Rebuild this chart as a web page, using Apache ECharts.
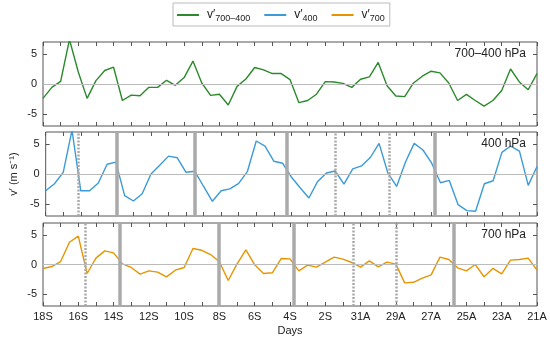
<!DOCTYPE html>
<html>
<head>
<meta charset="utf-8">
<script src="https://cdn.jsdelivr.net/npm/echarts@6/dist/echarts.min.js"></script>
<style>html,body{margin:0;padding:0;background:#fff}#c{width:550px;height:338px}</style>
</head>
<body>
<div id="c"></div>
<script>
// Tick labels (every 2 days, x in days from 18S)
const tickLabels = ['18S','16S','14S','12S','10S','8S','6S','4S','2S','31A','29A','27A','25A','23A','21A'];
// Twice-daily values (57 points, step 0.5 day)
const v700_400 = [-2.4,-0.56,0.45,7.4,2.0,-2.4,0.56,2.25,2.8,-2.75,-1.85,-1.97,-0.56,-0.56,0.62,-0.22,1.07,3.82,0.17,-1.9,-1.7,-3.5,-0.4,0.84,2.75,2.36,1.74,1.74,0.73,-3.1,-2.75,-1.7,0.39,0.34,0.11,-0.56,0.79,1.18,3.6,-0.28,-2.0,-2.1,0.17,1.3,2.13,1.85,0.17,-2.75,-1.74,-2.75,-3.7,-2.75,-1.07,2.5,0.34,-0.96,1.74];
const v400 = [-2.8,-1.63,0.28,7.3,-2.8,-2.8,-1.5,1.63,1.97,-3.6,-4.5,-3.3,0,1.46,2.98,2.7,0.28,0.45,-2.08,-4.55,-2.8,-2.47,-1.57,0.45,5.5,4.66,2.13,1.8,-0.5,-2.3,-4.0,-1.24,0.17,0.5,-1.7,0.84,1.35,2.75,5.1,0.17,-2.08,1.97,5.1,4.0,1.8,-1.46,-1.07,-5.1,-6.1,-6.2,-1.63,-1.12,3.6,4.66,3.8,-1.9,1.24];
const v700 = [-0.67,-0.34,0.5,3.76,4.78,-1.52,1.07,2.3,1.97,0.11,-0.5,-1.63,-1.07,-1.29,-2.08,-0.96,-0.5,2.7,2.4,1.68,0.45,-2.7,0.11,2.47,-0.06,-1.52,-1.4,1.0,0.95,-1.07,-0.11,-0.45,0.39,1.24,0.9,0.34,-0.45,0.62,-0.39,0.39,0.06,-3.1,-3.0,-2.3,-1.74,1.24,0.84,-0.56,-1.07,0,-2.08,-0.67,-1.57,0.73,0.84,1.07,-0.96];
// Event lines (days from 18S)
const solid400 = [4.07, 8.5, 13.74, 22.19];
const dotted400 = [1.85, 16.5, 19.57];
const solid700 = [4.37, 9.98, 14.23, 23.26];
const dotted700 = [2.38, 17.6, 20.05];
const panelTitles = ['700–400 hPa', '400 hPa', '700 hPa'];
const yLabel = 'v′ (m s⁻¹)';
const xLabel = 'Days';

const STEP = 0.5;
const toPairs = arr => arr.map((v, i) => [i * STEP, v]);
const FONT = 'Liberation Sans';
const colors = ['#2b8a2b', '#3c9ad8', '#e69500'];
const gridTops = [42, 132, 223];
const gridH = [84, 84, 83];

const grids = gridTops.map((t, i) => ({
  left: 43, right: 13, top: t, height: gridH[i],
  show: true, borderColor: '#555', borderWidth: 1, backgroundColor: 'transparent'
}));

const xAxes = [];
const yAxes = [];
for (let g = 0; g < 3; g++) {
  const base = {
    type: 'value', min: 0, max: 28, interval: 1, gridIndex: g,
    axisLine: {show: false, onZero: false}, splitLine: {show: false},
    axisTick: {show: true, inside: true, length: 4, lineStyle: {color: '#555'}}
  };
  xAxes.push(Object.assign({}, base, {
    position: 'bottom',
    axisLabel: g === 2 ? {
      show: true, color: '#222', fontFamily: FONT, fontSize: 11, margin: 5,
      formatter: v => (v % 2 === 0 ? tickLabels[v / 2] : '')
    } : {show: false},
    name: g === 2 ? xLabel : '', nameLocation: 'middle', nameGap: 19,
    nameTextStyle: {color: '#222', fontFamily: FONT, fontSize: 11}
  }));
  xAxes.push(Object.assign({}, base, {position: 'top', axisLabel: {show: false}}));
  const ybase = {
    type: 'value', min: -7, max: 7, gridIndex: g,
    axisLine: {show: false, onZero: false}, splitLine: {show: false},
    axisTick: {show: true, inside: true, length: 4, lineStyle: {color: '#555'}, customValues: [-5, 0, 5]}
  };
  yAxes.push(Object.assign({}, ybase, {
    position: 'left',
    axisLabel: {show: true, color: '#222', fontFamily: FONT, fontSize: 11, margin: 6, customValues: [-5, 0, 5],
      formatter: v => String(v)},
    name: g === 1 ? yLabel : '', nameLocation: 'middle', nameRotate: 90, nameGap: 24,
    nameTextStyle: {color: '#222', fontFamily: FONT, fontSize: 11}
  }));
  yAxes.push(Object.assign({}, ybase, {position: 'right', axisLabel: {show: false}}));
}

function zeroLine() {
  return {silent: true, symbol: 'none', label: {show: false},
    lineStyle: {color: '#bbb', type: 'solid', width: 1},
    data: [{yAxis: 0}], animation: false};
}
function eventLines(solid, dotted) {
  return {silent: true, symbol: 'none', label: {show: false}, animation: false,
    data: solid.map(d => ({xAxis: d, lineStyle: {color: '#aaa', width: 3.5, type: 'solid'}}))
      .concat(dotted.map(d => ({xAxis: d, lineStyle: {color: '#aaa', width: 2.5, type: [2, 1.5]}})))};
}

const names = ['v700-400', 'v400', 'v700'];
const datasets = [v700_400, v400, v700];
const series = [];
for (let g = 0; g < 3; g++) {
  series.push({type: 'line', xAxisIndex: 2 * g, yAxisIndex: 2 * g, data: [], z: 1, markLine: zeroLine()});
  if (g > 0) {
    series.push({
      type: 'line', xAxisIndex: 2 * g, yAxisIndex: 2 * g, data: [], z: 1,
      markLine: eventLines(g === 1 ? solid400 : solid700, g === 1 ? dotted400 : dotted700)
    });
  }
  series.push({
    name: names[g], type: 'line', xAxisIndex: 2 * g, yAxisIndex: 2 * g,
    data: toPairs(datasets[g]), showSymbol: false, symbol: 'none', clip: true, z: 3,
    lineStyle: {color: colors[g], width: 1.4}, itemStyle: {color: colors[g]}
  });
}

const subs = {'v700-400': '700–400', 'v400': '400', 'v700': '700'};
const option = {
  animation: false,
  backgroundColor: '#fff',
  grid: grids,
  xAxis: xAxes,
  yAxis: yAxes,
  title: panelTitles.map((t, i) => ({
    text: t, right: 24, top: [48, 138, 229][i],
    textStyle: {fontFamily: FONT, fontSize: 12, fontWeight: 'normal', color: '#222'}, padding: 0
  })),
  legend: {
    data: names, left: 173, top: 3, width: 210,
    borderColor: '#bbb', borderWidth: 1, borderRadius: 0, padding: [4, 5, 3, 4],
    itemWidth: 22, itemHeight: 2, icon: 'rect', itemGap: 14,
    formatter: n => '{b|v′}{s|' + subs[n] + '}',
    textStyle: {
      fontFamily: FONT, color: '#222', padding: [0, 0, 0, 3],
      rich: {
        b: {fontFamily: FONT, fontSize: 12, color: '#222', lineHeight: 16, verticalAlign: 'middle'},
        s: {fontFamily: FONT, fontSize: 9, color: '#222', lineHeight: 16, padding: [7, 0, 0, 0], verticalAlign: 'bottom'}
      }
    }
  },
  series: series
};
const chart = echarts.init(document.getElementById('c'), null, {renderer: 'canvas'});
chart.setOption(option);
</script>
</body>
</html>
